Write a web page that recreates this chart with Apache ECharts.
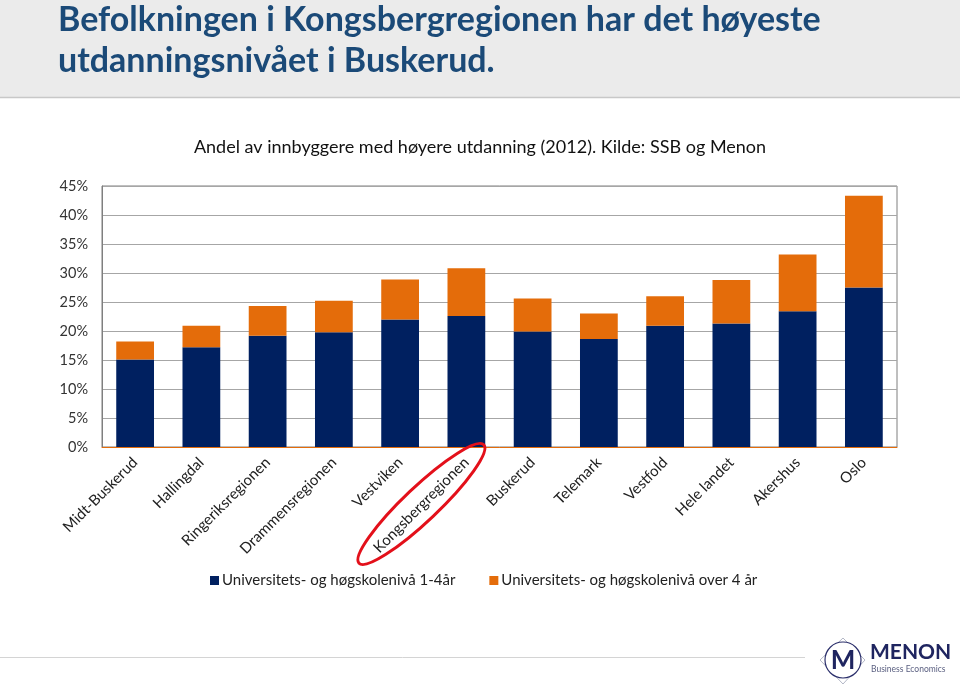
<!DOCTYPE html>
<html>
<head>
<meta charset="utf-8">
<script src="https://cdn.jsdelivr.net/npm/echarts@6/dist/echarts.min.js"></script>
<style>
html,body{margin:0;padding:0;background:#fff;}
#chart{width:960px;height:687px;}
</style>
</head>
<body>
<div id="chart"></div>
<script>
const categories = ['Midt-Buskerud','Hallingdal','Ringeriksregionen','Drammensregionen','Vestviken','Kongsbergregionen','Buskerud','Telemark','Vestfold','Hele landet','Akershus','Oslo'];
const short = [15.1, 17.2, 19.2, 19.8, 22.0, 22.6, 19.9, 18.6, 20.9, 21.3, 23.4, 27.5];
const long = [3.1, 3.7, 5.1, 5.4, 6.9, 8.2, 5.7, 4.4, 5.1, 7.5, 9.8, 15.8];
const seriesNames = ['Universitets- og høgskolenivå 1-4år', 'Universitets- og høgskolenivå over 4 år'];
const yTicks = [0, 5, 10, 15, 20, 25, 30, 35, 40, 45];
const titleLines = ['Befolkningen i Kongsbergregionen har det høyeste', 'utdanningsnivået i Buskerud.'];
const subtitle = 'Andel av innbyggere med høyere utdanning (2012). Kilde: SSB og Menon';
const highlight = 'Kongsbergregionen';

const NAVY = '#002060', ORANGE = '#E46C0A';
const FONT = 'Lato';

const chart = echarts.init(document.getElementById('chart'), null, {renderer: 'canvas'});

const baseGraphic = [
  {type: 'rect', z: -10, shape: {x: 0, y: 0, width: 960, height: 97}, style: {fill: '#EBEBEB'}},
  {type: 'line', shape: {x1: 0, y1: 97.5, x2: 960, y2: 97.5}, style: {stroke: '#C8C8C8', lineWidth: 1.5}},
  {type: 'text', x: 58, y: 20, style: {text: titleLines[0], fill: '#1B4A78', font: 'bold 34px ' + FONT, textVerticalAlign: 'middle'}},
  {type: 'text', x: 58, y: 61, style: {text: titleLines[1], fill: '#1B4A78', font: 'bold 34px ' + FONT, textVerticalAlign: 'middle'}},
  {type: 'line', shape: {x1: 0, y1: 657.5, x2: 805, y2: 657.5}, style: {stroke: '#D4D4D4', lineWidth: 1}},
  // logo
  {type: 'polygon', shape: {points: [[843, 638], [865, 660], [843, 684], [820, 660]]}, style: {fill: 'none', stroke: '#A0A4B8', lineWidth: 0.8}},
  {type: 'circle', shape: {cx: 843, cy: 660, r: 18}, style: {fill: '#fff', stroke: '#2B2F6B', lineWidth: 1.2}},
  {type: 'text', x: 843, y: 661, style: {text: 'M', fill: '#1F2560', font: 'bold 26px ' + FONT, textAlign: 'center', textVerticalAlign: 'middle'}},
  {type: 'text', x: 870, y: 652, style: {text: 'MENON', fill: '#1F2560', font: 'bold 21px ' + FONT, textVerticalAlign: 'middle'}},
  {type: 'text', x: 871, y: 669, style: {text: 'Business Economics', fill: '#5A5F80', font: '8.5px ' + FONT, textVerticalAlign: 'middle'}}
];

const option = {
  animation: false,
  backgroundColor: '#fff',
  title: {
    text: subtitle,
    left: 'center',
    top: 133,
    textStyle: {fontFamily: FONT, fontSize: 18, fontWeight: 'normal', color: '#111'}
  },
  legend: {
    left: 205,
    top: 568,
    itemWidth: 9,
    itemHeight: 9,
    itemGap: 34,
    icon: 'rect',
    textStyle: {fontFamily: FONT, fontSize: 15, color: '#222', padding: [0, 0, 0, -2]},
    data: seriesNames
  },
  grid: {
    left: 102, right: 63, top: 186, bottom: 240,
    show: true, borderColor: '#7F7F7F', borderWidth: 1, backgroundColor: 'transparent'
  },
  xAxis: {
    type: 'category',
    data: categories,
    axisTick: {show: false},
    axisLine: {lineStyle: {color: ORANGE, width: 1}},
    axisLabel: {interval: 0, rotate: 45, margin: 13, fontFamily: FONT, fontSize: 15, color: '#222'}
  },
  yAxis: {
    type: 'value',
    min: yTicks[0],
    max: yTicks[yTicks.length - 1],
    interval: yTicks[1] - yTicks[0],
    axisLine: {show: true, lineStyle: {color: '#7F7F7F'}},
    axisTick: {show: false},
    splitLine: {lineStyle: {color: '#A6A6A6', width: 1.2}},
    axisLabel: {formatter: '{value}%', fontFamily: FONT, fontSize: 14.5, color: '#333', margin: 14}
  },
  series: [
    {name: seriesNames[0], type: 'bar', stack: 'tot', data: short, barWidth: '57%', itemStyle: {color: NAVY}},
    {name: seriesNames[1], type: 'bar', stack: 'tot', data: long, barWidth: '57%', itemStyle: {color: ORANGE}}
  ],
  graphic: baseGraphic
};

chart.setOption(option);

// annotation ellipse around the highlighted category label
const idx = categories.indexOf(highlight);
const p = chart.convertToPixel({xAxisIndex: 0, yAxisIndex: 0}, [idx, 0]);
const ell = {
  type: 'ellipse',
  x: p[0] - 45, y: p[1] + 57,
  rotation: 43.5 * Math.PI / 180,
  shape: {cx: 0, cy: 0, rx: 86, ry: 17},
  style: {fill: 'none', stroke: '#E3101A', lineWidth: 3},
  z: 100
};
chart.setOption({graphic: baseGraphic.concat([ell])});
</script>
</body>
</html>
